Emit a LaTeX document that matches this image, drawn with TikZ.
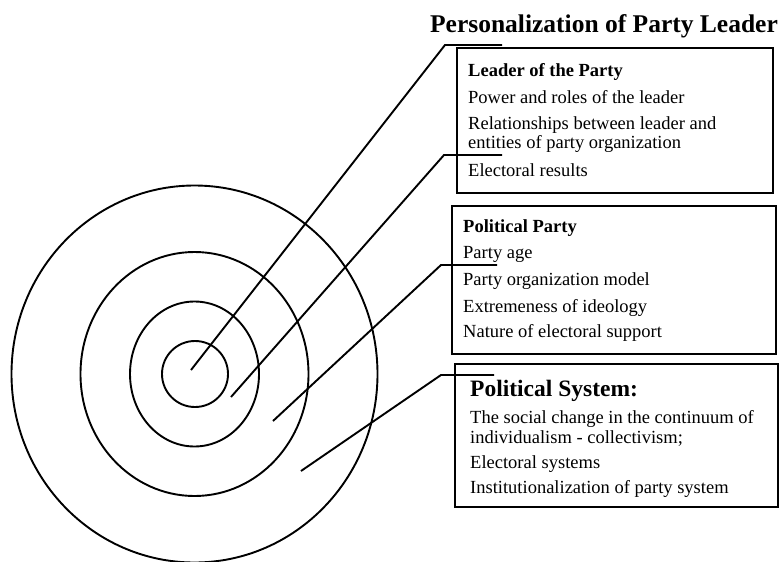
\documentclass[tikz,border=0pt]{standalone}
\usepackage{fontspec}
\setmainfont{Liberation Serif}
\begin{document}
\begin{tikzpicture}[x=1pt,y=-1pt,
  ring/.style={draw=black,line width=1.9pt},
  leader/.style={draw=black,line width=1.9pt},
  infobox/.style={draw=black,line width=2pt},
  body/.style={anchor=base west,inner sep=0pt,font=\fontsize{18.5}{19}\selectfont},
  head/.style={anchor=base west,inner sep=0pt,font=\fontsize{18.5}{19}\selectfont\bfseries},
]
\useasboundingbox (0,0) rectangle (782,562);
% circles
\draw[ring] (194.5,374) ellipse [x radius=183,y radius=188.5];
\draw[ring] (194.5,374) ellipse [x radius=114,y radius=122];
\draw[ring] (194.5,374) ellipse [x radius=64.5,y radius=72.5];
\draw[ring] (195,374) circle [radius=33];
% boxes
\draw[infobox] (457,48) rectangle (773,193);
\draw[infobox] (452,206) rectangle (776,354);
\draw[infobox] (455,364) rectangle (778,507);
% title
\node[anchor=base,inner sep=0pt,font=\fontsize{25.5}{28}\selectfont\bfseries] (title) at (604,32) {Personalization of Party Leader};
% box 1
\node[head] (h1) at (468,76) {Leader of the Party};
\node[body] (a1) at (468,103) {Power and roles of the leader};
\node[body] (a2) at (468,129) {Relationships between leader and};
\node[body] (a2b) at (468,148) {entities of party organization};
\node[body] (a3) at (468,176) {Electoral results};
% box 2
\node[head] (h2) at (463,232) {Political Party};
\node[body] (b1) at (463,258) {Party age};
\node[body] (b2) at (463,285) {Party organization model};
\node[body] (b3) at (463,312) {Extremeness of ideology};
\node[body] (b4) at (463,337) {Nature of electoral support};
% box 3
\node[anchor=base west,inner sep=0pt,font=\fontsize{23.5}{26}\selectfont\bfseries] (h3) at (470,396) {Political System:};
\node[body] (c1) at (470,423) {The social change in the continuum of};
\node[body] (c1b) at (470,443) {individualism - collectivism;};
\node[body] (c2) at (470,468) {Electoral systems};
\node[body] (c3) at (470,493) {Institutionalization of party system};
% leader lines
\coordinate (s1) at (191,370); \coordinate (k1) at (445,45); \coordinate (e1) at (502,45);
\coordinate (s2) at (231,397); \coordinate (k2) at (444,155); \coordinate (e2) at (502,155);
\coordinate (s3) at (273,421); \coordinate (k3) at (441,265); \coordinate (e3) at (497,265);
\coordinate (s4) at (301,471); \coordinate (k4) at (441,375); \coordinate (e4) at (494,375);
\draw[leader] (s1) -- (k1) -- (e1);
\draw[leader] (s2) -- (k2) -- (e2);
\draw[leader] (s3) -- (k3) -- (e3);
\draw[leader] (s4) -- (k4) -- (e4);
\end{tikzpicture}
\end{document}
